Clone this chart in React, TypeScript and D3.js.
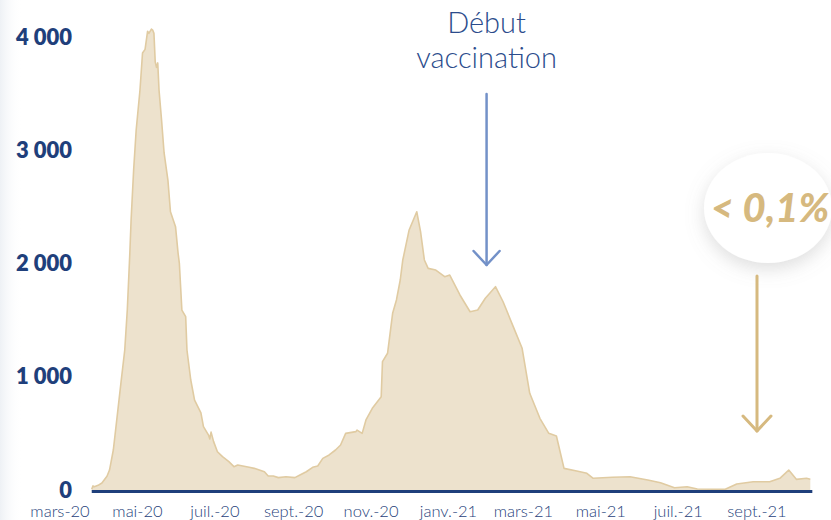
import React from "react";
import * as d3 from "d3";

const dates = [
  "2020-03-26", "2020-03-27", "2020-03-28", "2020-03-31", "2020-04-03", "2020-04-07", "2020-04-09",
  "2020-04-12", "2020-04-15", "2020-04-18", "2020-04-21", "2020-04-23", "2020-04-25", "2020-04-26",
  "2020-04-28", "2020-04-30", "2020-05-03", "2020-05-05", "2020-05-07", "2020-05-09", "2020-05-10",
  "2020-05-12", "2020-05-13", "2020-05-14", "2020-05-15", "2020-05-16", "2020-05-17", "2020-05-18",
  "2020-05-20", "2020-05-22", "2020-05-25", "2020-05-27", "2020-05-31", "2020-06-02", "2020-06-03",
  "2020-06-05", "2020-06-08", "2020-06-09", "2020-06-12", "2020-06-15", "2020-06-20", "2020-06-22",
  "2020-06-26", "2020-06-27", "2020-06-28", "2020-06-30", "2020-07-03", "2020-07-07", "2020-07-12",
  "2020-07-16", "2020-07-19", "2020-07-23", "2020-07-28", "2020-08-01", "2020-08-05", "2020-08-09",
  "2020-08-12", "2020-08-16", "2020-08-20", "2020-08-26", "2020-09-02", "2020-09-06", "2020-09-11",
  "2020-09-16", "2020-09-20", "2020-09-24", "2020-09-29", "2020-10-04", "2020-10-08", "2020-10-12",
  "2020-10-20", "2020-10-21", "2020-10-25", "2020-10-28", "2020-11-02", "2020-11-09", "2020-11-10",
  "2020-11-14", "2020-11-16", "2020-11-18", "2020-11-21", "2020-11-24", "2020-11-26", "2020-12-01",
  "2020-12-07", "2020-12-10", "2020-12-13", "2020-12-16", "2020-12-22", "2020-12-29", "2021-01-02",
  "2021-01-10", "2021-01-18", "2021-01-24", "2021-01-30", "2021-02-07", "2021-02-13", "2021-02-21",
  "2021-02-28", "2021-03-06", "2021-03-14", "2021-03-21", "2021-03-27", "2021-04-02", "2021-04-12",
  "2021-04-20", "2021-04-25", "2021-05-10", "2021-05-24", "2021-06-07", "2021-06-17", "2021-06-28",
  "2021-07-08", "2021-07-16", "2021-07-29", "2021-08-07", "2021-08-16", "2021-08-29", "2021-09-11",
  "2021-09-19", "2021-09-26", "2021-10-02", "2021-10-10", "2021-10-13",
];

const values = [
  15, 45, 38, 50, 71, 130, 185,
  362, 656, 954, 1245, 1598, 2100, 2393,
  2834, 3188, 3541, 3867, 3900, 4060, 4040,
  4079, 4070, 4041, 3790, 3740, 3780, 3541,
  3276, 2985, 2746, 2466, 2334, 2101, 2013,
  1598, 1539, 1245, 980, 803, 689, 568,
  494, 460, 520, 436, 347, 303, 259,
  215, 230, 221, 209, 200, 185, 170,
  132, 132, 118, 126, 118, 141, 170,
  209, 221, 288, 318, 362, 406, 509,
  524, 538, 509, 627, 730, 833, 1142,
  1216, 1392, 1569, 1687, 1863, 2040, 2305,
  2466, 2290, 2040, 1966, 1951, 1892, 1907,
  1731, 1583, 1598, 1702, 1804, 1671, 1451,
  1260, 863, 642, 509, 486, 200, 177,
  156, 112, 121, 126, 97, 73, 29,
  38, 18, 15, 15, 62, 82, 82,
  112, 185, 103, 112, 103,
];

const yTicks = [0, 1000, 2000, 3000, 4000];
const xTickDates = [
  "2020-03-01", "2020-05-01", "2020-07-01", "2020-09-01", "2020-11-01",
  "2021-01-01", "2021-03-01", "2021-05-01", "2021-07-01", "2021-09-01",
];
const xTickLabels = [
  "mars-20", "mai-20", "juil.-20", "sept.-20", "nov.-20",
  "janv.-21", "mars-21", "mai-21", "juil.-21", "sept.-21",
];
const vaccinationLabel = ["Début", "vaccination"];
const vaccinationDate = "2021-01-31";
const badgeLabel = "< 0,1%";
const badgeDate = "2021-09-01";

const parse = d3.timeParse("%Y-%m-%d");
const fmt = d3.formatLocale({ decimal: ",", thousands: " ", grouping: [3], currency: ["", "€"] }).format(",d");

export default function App() {
  const W = 831;
  const H = 520;
  const x = d3
    .scaleTime()
    .domain([parse("2020-03-01") as Date, parse("2021-09-01") as Date])
    .range([60, 757]);
  const y = d3.scaleLinear().domain([0, 4000]).range([491, 38]);

  const data = dates.map((d, i) => ({ date: parse(d) as Date, v: values[i] }));
  const area = d3
    .area<{ date: Date; v: number }>()
    .x((d) => x(d.date))
    .y0(y(0))
    .y1((d) => y(d.v));
  const line = d3
    .line<{ date: Date; v: number }>()
    .x((d) => x(d.date))
    .y((d) => y(d.v));

  const navy = "#1f3f7b";
  const vx = x(parse(vaccinationDate) as Date);
  const bx = x(parse(badgeDate) as Date);
  const axisStart = x(data[0].date);
  const axisEnd = x(data[data.length - 1].date) + 2;

  return (
    <svg
      width={W}
      height={H}
      style={{ position: "absolute", left: 0, top: 0, background: "#fff" }}
      fontFamily="Lato, 'Open Sans', sans-serif"
    >
      <defs>
        <linearGradient id="leftfade" x1="0" x2="1" y1="0" y2="0">
          <stop offset="0" stopColor="#eef1f5" />
          <stop offset="1" stopColor="#ffffff" stopOpacity="0" />
        </linearGradient>
        <filter id="soft" x="-50%" y="-50%" width="200%" height="200%">
          <feDropShadow dx="0" dy="6" stdDeviation="9" floodColor="#8a8a8a" floodOpacity="0.28" />
        </filter>
      </defs>
      <rect x={0} y={0} width={22} height={H} fill="url(#leftfade)" />

      <path d={area(data) || ""} fill="#ede2cd" />
      <path d={line(data) || ""} fill="none" stroke="#e0cba2" strokeWidth={1.6} strokeLinejoin="round" />

      <line x1={axisStart} x2={axisEnd} y1={y(0) + 0.5} y2={y(0) + 0.5} stroke={navy} strokeWidth={3} />

      {yTicks.map((t) => (
        <text
          key={t}
          x={72}
          y={y(t) - 1}
          dy="0.35em"
          textAnchor="end"
          fill={navy}
          fontSize={22}
          fontWeight={800}
        >
          {fmt(t)}
        </text>
      ))}

      {xTickDates.map((d, i) => (
        <text
          key={d}
          x={x(parse(d) as Date)}
          y={517}
          textAnchor="middle"
          fill={navy}
          fontSize={16.5}
          fontWeight={300}
        >
          {xTickLabels[i]}
        </text>
      ))}

      {vaccinationLabel.map((s, i) => (
        <text
          key={s}
          x={vx}
          y={33 + i * 35}
          textAnchor="middle"
          fill="#2b4c8c"
          fontSize={29}
          fontWeight={300}
        >
          {s}
        </text>
      ))}
      <g stroke="#7391c8" strokeWidth={2.5} fill="none" strokeLinecap="round" strokeLinejoin="round">
        <line x1={vx} x2={vx} y1={94} y2={265} />
        <polyline points={`${vx - 13},${251} ${vx},${265} ${vx + 13},${251}`} />
      </g>

      <ellipse cx={768} cy={208} rx={64} ry={55} fill="#fff" filter="url(#soft)" />
      <text
        x={770}
        y={208}
        dy="0.36em"
        textAnchor="middle"
        fill="#d6b97f"
        fontSize={40}
        fontWeight={900}
        fontStyle="italic"
      >
        {badgeLabel}
      </text>
      <g stroke="#d6b97f" strokeWidth={3} fill="none" strokeLinecap="round" strokeLinejoin="round">
        <line x1={bx} x2={bx} y1={276} y2={431} />
        <polyline points={`${bx - 14},${416} ${bx},${431} ${bx + 14},${416}`} />
      </g>
    </svg>
  );
}
